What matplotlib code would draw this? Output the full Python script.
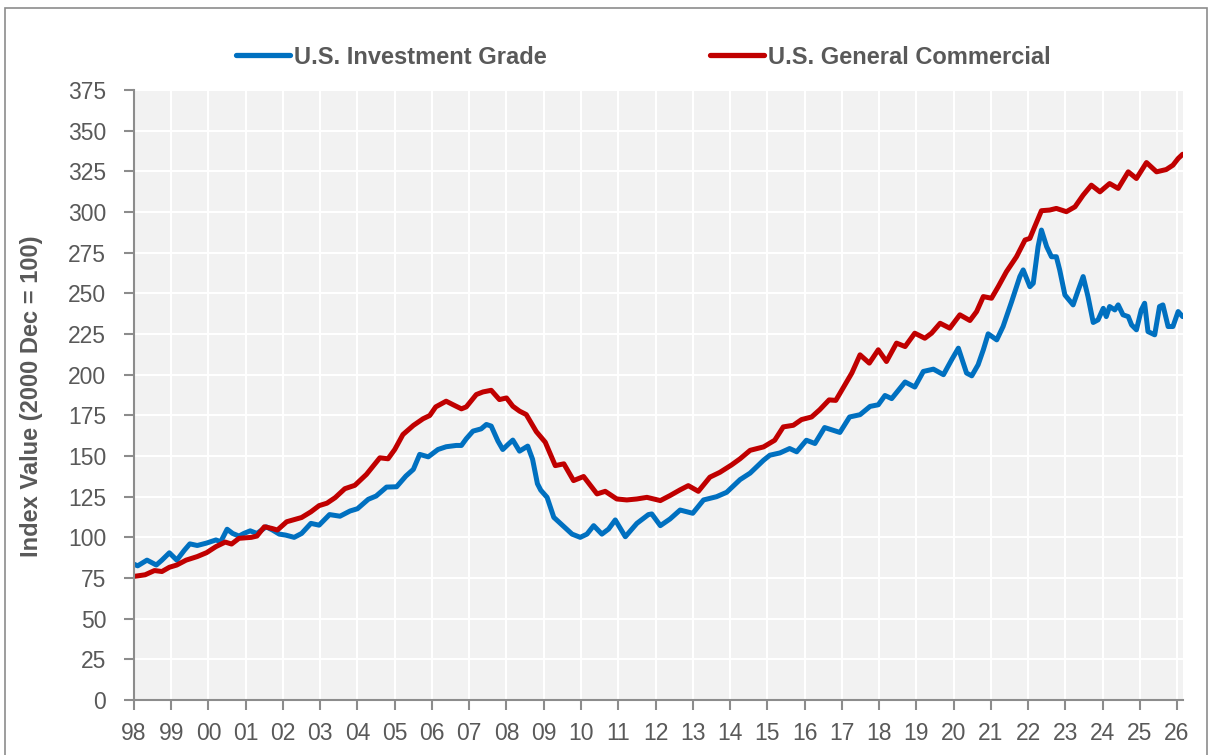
import numpy as np
import matplotlib.pyplot as plt
from matplotlib.patches import Rectangle

plt.rcParams['font.family'] = ['Liberation Sans', 'DejaVu Sans']

# U.S. Investment Grade (annee decimale, valeur d'indice)
ig_t = [1998.0, 1998.1, 1998.35, 1998.6, 1998.75, 1998.95, 1999.15, 1999.35, 1999.5, 1999.7,
        1999.95, 2000.2, 2000.33, 2000.5, 2000.65, 2000.82, 2000.95, 2001.12, 2001.3, 2001.55,
        2001.72, 2001.9, 2002.07, 2002.3, 2002.5, 2002.75, 2002.97, 2003.25, 2003.53, 2003.8,
        2004.0, 2004.29, 2004.5, 2004.78, 2005.05, 2005.3, 2005.5, 2005.67, 2005.9, 2006.16,
        2006.38, 2006.65, 2006.79, 2006.92, 2007.1, 2007.32, 2007.46, 2007.59, 2007.77, 2007.9,
        2008.04, 2008.17, 2008.35, 2008.57, 2008.7, 2008.83, 2008.92, 2009.09, 2009.27, 2009.54,
        2009.76, 2009.98, 2010.16, 2010.34, 2010.56, 2010.74, 2010.92, 2011.19, 2011.5, 2011.81,
        2011.9, 2012.13, 2012.39, 2012.66, 2013.0, 2013.29, 2013.64, 2013.91, 2014.27, 2014.54,
        2014.9, 2015.07, 2015.34, 2015.6, 2015.79, 2016.05, 2016.28, 2016.54, 2016.77, 2016.95,
        2017.21, 2017.49, 2017.76, 2017.98, 2018.16, 2018.34, 2018.7, 2018.96, 2019.19, 2019.46,
        2019.73, 2019.95, 2020.13, 2020.35, 2020.49, 2020.66, 2020.8, 2020.93, 2021.16, 2021.33,
        2021.56, 2021.78, 2021.87, 2022.05, 2022.14, 2022.27, 2022.36, 2022.5, 2022.63, 2022.76,
        2022.85, 2022.99, 2023.21, 2023.35, 2023.48, 2023.61, 2023.75, 2023.88, 2024.02, 2024.1,
        2024.19, 2024.33, 2024.42, 2024.55, 2024.69, 2024.78, 2024.91, 2025.04, 2025.13, 2025.22,
        2025.4, 2025.53, 2025.62, 2025.76, 2025.89, 2026.03, 2026.15]
ig_v = [83.5, 82.5, 86, 83, 86, 90.5, 86, 92, 96, 95,
        96.5, 98.4, 97.3, 105, 102.4, 100.8, 102.4, 104, 102.4, 106.5,
        104.5, 102, 101.4, 100, 102.4, 108.6, 107.5, 114, 113, 116.2,
        117.6, 123.4, 125.4, 130.9, 131.1, 137.7, 141.8, 151, 149.5, 154,
        155.7, 156.5, 156.5, 160.6, 165.3, 166.7, 169.4, 168.4, 159.2, 154,
        157.1, 159.8, 153, 156.1, 148, 133, 129, 124.6, 112.3, 106.6,
        102, 100, 102, 107.2, 102, 105.1, 110.7, 100.4, 108.6, 114,
        114.4, 107.2, 111.3, 116.8, 114.8, 123, 125, 127.7, 135.5, 139.5,
        147.4, 150.5, 151.9, 154.6, 152.6, 159.7, 157.7, 167.5, 165.8, 164.5,
        174, 175.4, 180.5, 181.5, 187.2, 185.3, 195.5, 192.4, 202, 203.4,
        200, 209.2, 216.3, 201, 199.3, 206.1, 215.3, 225.1, 221.4, 229.6,
        244.9, 260.3, 264.4, 254.1, 256.2, 278.7, 288.9, 278.7, 272.5, 272.5,
        264.4, 249, 242.9, 252.1, 260.3, 248, 232.1, 233.7, 240.8, 235.7,
        241.9, 239.8, 242.9, 236.8, 235.7, 230.6, 227.6, 239.8, 243.9, 226.5,
        224.5, 241.9, 242.9, 229.6, 229.6, 238.8, 235.7]

# U.S. General Commercial
gc_t = [1998.0, 1998.3, 1998.55, 1998.75, 1998.95, 1999.15, 1999.4, 1999.7, 1999.95, 2000.2,
        2000.45, 2000.62, 2000.82, 2001.15, 2001.3, 2001.5, 2001.7, 2001.85, 2002.1, 2002.5,
        2002.75, 2002.97, 2003.18, 2003.4, 2003.66, 2003.93, 2004.24, 2004.6, 2004.82, 2005.0,
        2005.22, 2005.5, 2005.76, 2005.94, 2006.1, 2006.38, 2006.56, 2006.79, 2006.92, 2007.19,
        2007.37, 2007.59, 2007.81, 2008.0, 2008.17, 2008.35, 2008.53, 2008.8, 2009.04, 2009.31,
        2009.54, 2009.8, 2010.07, 2010.43, 2010.65, 2010.96, 2011.23, 2011.5, 2011.77, 2012.13,
        2012.39, 2012.66, 2012.88, 2013.15, 2013.46, 2013.73, 2014.04, 2014.27, 2014.54, 2014.9,
        2015.2, 2015.43, 2015.7, 2015.92, 2016.19, 2016.41, 2016.66, 2016.84, 2017.04, 2017.27,
        2017.49, 2017.74, 2017.98, 2018.2, 2018.47, 2018.7, 2018.96, 2019.23, 2019.41, 2019.64,
        2019.9, 2020.17, 2020.44, 2020.62, 2020.8, 2021.02, 2021.2, 2021.42, 2021.69, 2021.92,
        2022.05, 2022.18, 2022.36, 2022.58, 2022.76, 2023.03, 2023.26, 2023.48, 2023.7, 2023.93,
        2024.19, 2024.42, 2024.69, 2024.91, 2025.18, 2025.45, 2025.71, 2025.89, 2026.03, 2026.15]
gc_v = [76, 77, 79.6, 79, 81.6, 83, 86, 88.2, 90.6, 94.3,
        97.1, 95.9, 99.4, 100, 100.8, 106.5, 105.5, 104.5, 109.6, 112.2,
        115.7, 119.5, 121, 124.4, 129.9, 132, 138.7, 148.9, 148.3, 154,
        163.2, 168.8, 172.9, 174.9, 180.2, 183.7, 181.6, 179, 180.2, 187.8,
        189.4, 190.4, 184.7, 185.7, 180.6, 177.6, 175.5, 165, 158.5, 144.1,
        145.2, 134.9, 137.4, 126.7, 128.3, 123.6, 123, 123.6, 124.6, 122.6,
        125.7, 129.2, 131.8, 128.3, 137, 140, 144.5, 148.3, 153.5, 155.6,
        159.7, 167.9, 168.9, 172.4, 174, 178.5, 184.5, 184.2, 192, 201,
        212.2, 207.1, 215.3, 208.1, 219.4, 217.3, 225.5, 222.4, 225.5, 231.6,
        228.6, 236.8, 233.3, 238.8, 248, 247, 254.1, 263.3, 272.5, 282.8,
        283.8, 291, 300.8, 301.2, 302.2, 300.2, 303.2, 310.4, 316.5, 312.4,
        317.5, 314.5, 324.7, 320.6, 330.4, 324.7, 326.1, 328.8, 332.9, 335.5]

years = np.arange(1998, 2027)
year_labels = ['%02d' % (y % 100) for y in years]
gris = '#595959'

fig = plt.figure(figsize=(12.08, 7.55), dpi=100)
ax = fig.add_axes([0.1109, 0.0728, 0.8684, 0.808])
ax.set_facecolor('#f2f2f2')

# cadre autour de la figure
fig.patches.append(Rectangle((0.004, -0.01), 0.995, 1.0, transform=fig.transFigure,
                             fill=False, edgecolor='#8c8c8c', linewidth=1.2))

ax.plot(ig_t, ig_v, color='#0070c0', linewidth=3.6, label='U.S. Investment Grade', solid_capstyle='round')
ax.plot(gc_t, gc_v, color='#c00000', linewidth=3.6, label='U.S. General Commercial', solid_capstyle='round')

ax.set_xlim(1998, 2026.16)
ax.set_ylim(0, 375)
ax.set_xticks(years)
ax.set_xticklabels(year_labels)
ax.set_yticks(np.arange(0, 376, 25))
ax.grid(True, color='white', linewidth=1.5)
ax.set_axisbelow(True)

for s in ['top', 'right']:
    ax.spines[s].set_visible(False)
for s in ['left', 'bottom']:
    ax.spines[s].set_color('#8c8c8c')
    ax.spines[s].set_linewidth(1.5)
ax.tick_params(axis='both', colors='#8c8c8c', labelcolor=gris, labelsize=16.5, length=7, width=1.5)
ax.tick_params(axis='x', pad=9)
ax.tick_params(axis='y', pad=13)

ax.set_ylabel('Index Value (2000 Dec = 100)', fontsize=17, fontweight='bold', color=gris)
ax.yaxis.set_label_coords(-0.087, 0.4975)

leg = fig.legend(loc='center', bbox_to_anchor=(0.5327, 0.9245), ncol=2, frameon=False,
                 handlelength=2.3, handletextpad=0.17, columnspacing=6.9,
                 prop={'size': 17, 'weight': 'bold'})
for t in leg.get_texts():
    t.set_color(gris)
for l in leg.get_lines():
    l.set_linewidth(3.8)

fig.savefig('out.png', dpi=100)
